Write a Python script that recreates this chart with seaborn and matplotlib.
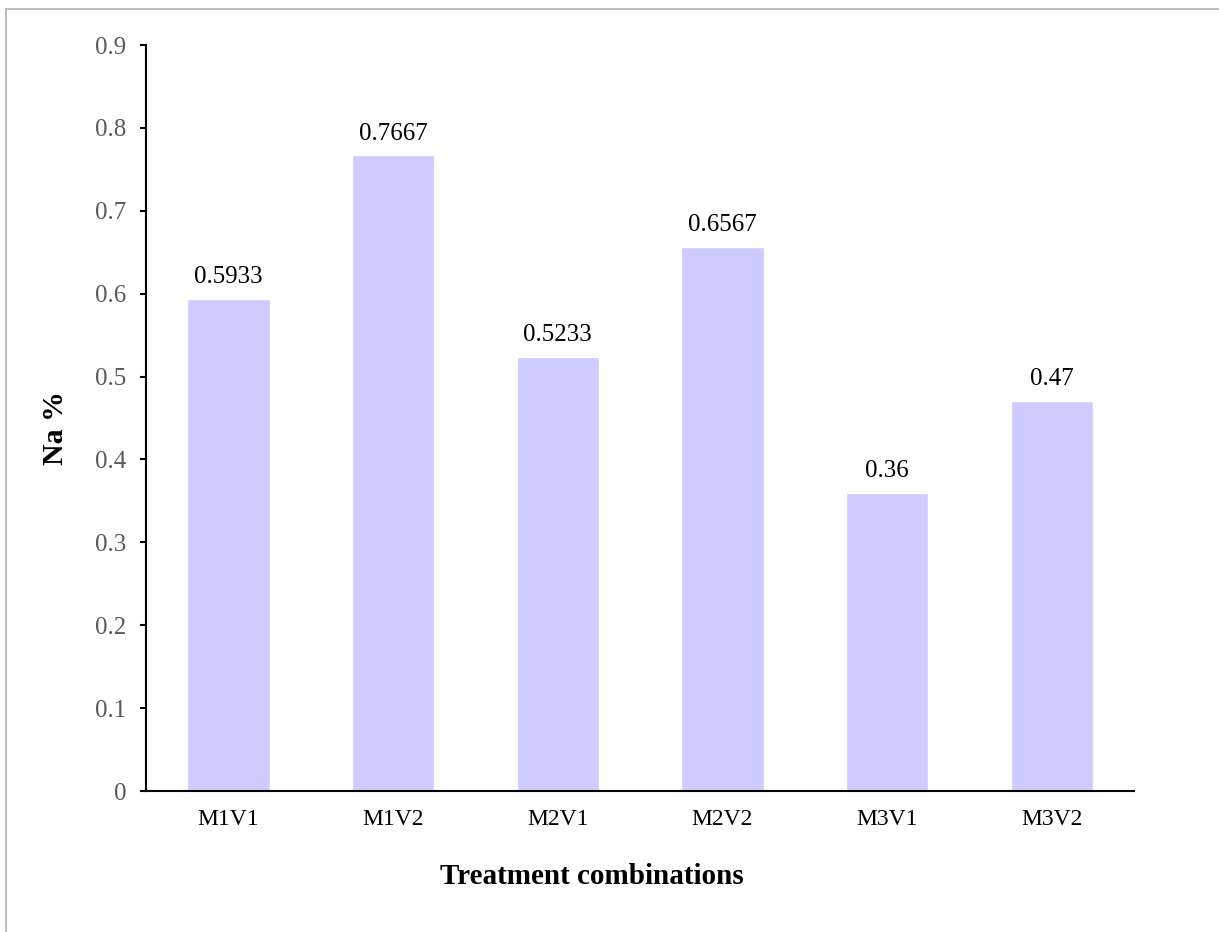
import numpy as np
import pandas as pd
import matplotlib
matplotlib.use('Agg')
import matplotlib.pyplot as plt
import seaborn as sns
from matplotlib.patches import Rectangle

## data
treatments = ['M1V1', 'M1V2', 'M2V1', 'M2V2', 'M3V1', 'M3V2']
na_values = [0.5933, 0.7667, 0.5233, 0.6567, 0.36, 0.47]
value_labels = ['0.5933', '0.7667', '0.5233', '0.6567', '0.36', '0.47']
y_ticks = [0, 0.1, 0.2, 0.3, 0.4, 0.5, 0.6, 0.7, 0.8, 0.9]
y_tick_labels = ['0', '0.1', '0.2', '0.3', '0.4', '0.5', '0.6', '0.7', '0.8', '0.9']

df = pd.DataFrame({'treatment': treatments, 'na': na_values})

sns.set_style('white')
plt.rcParams['font.family'] = ['Liberation Serif', 'DejaVu Serif']

fig = plt.figure(figsize=(12.19, 9.32), dpi=100)
ax = fig.add_axes([146 / 1219, 1 - 791 / 932, (1134 - 146) / 1219, (791 - 45) / 932])

sns.barplot(data=df, x='treatment', y='na', color='#CCCCFF', saturation=1,
            width=0.5, ax=ax)

# value labels above bars
for i, (v, lab) in enumerate(zip(na_values, value_labels)):
    ax.annotate(lab, (i, v), xytext=(0, 11.5), textcoords='offset points',
                ha='center', va='baseline', fontsize=18, color='black')

ax.set_ylim(0, 0.9)
ax.set_xlim(-0.5, len(treatments) - 0.5)
ax.set_yticks(y_ticks)
ax.set_yticklabels(y_tick_labels, fontsize=18, color='#595959')
ax.tick_params(axis='y', direction='out', length=4.3, width=1.5, color='black', pad=10, left=True)
ax.tick_params(axis='x', length=0, labelsize=17, labelcolor='black', pad=13)

for s in ['top', 'right']:
    ax.spines[s].set_visible(False)
for s in ['left', 'bottom']:
    ax.spines[s].set_color('black')
    ax.spines[s].set_linewidth(1.5)

ax.set_xlabel('Treatment combinations', fontsize=21, fontweight='bold', color='black')
ax.set_ylabel('Na %', fontsize=21.5, fontweight='bold', color='black')
ax.xaxis.set_label_coords(0.4514, -0.114)
ax.yaxis.set_label_coords(-0.0921, 0.4866)
ax.xaxis.label.set_va('center')
ax.yaxis.label.set_va('center')

# grey frame around the chart area
fig.patches.append(Rectangle((6 / 1219, -0.1), 1.2, 1 - 9 / 932 + 0.1,
                             transform=fig.transFigure, fill=False,
                             edgecolor='#BFBFBF', linewidth=1.5))

fig.savefig('out.png', dpi=100)
